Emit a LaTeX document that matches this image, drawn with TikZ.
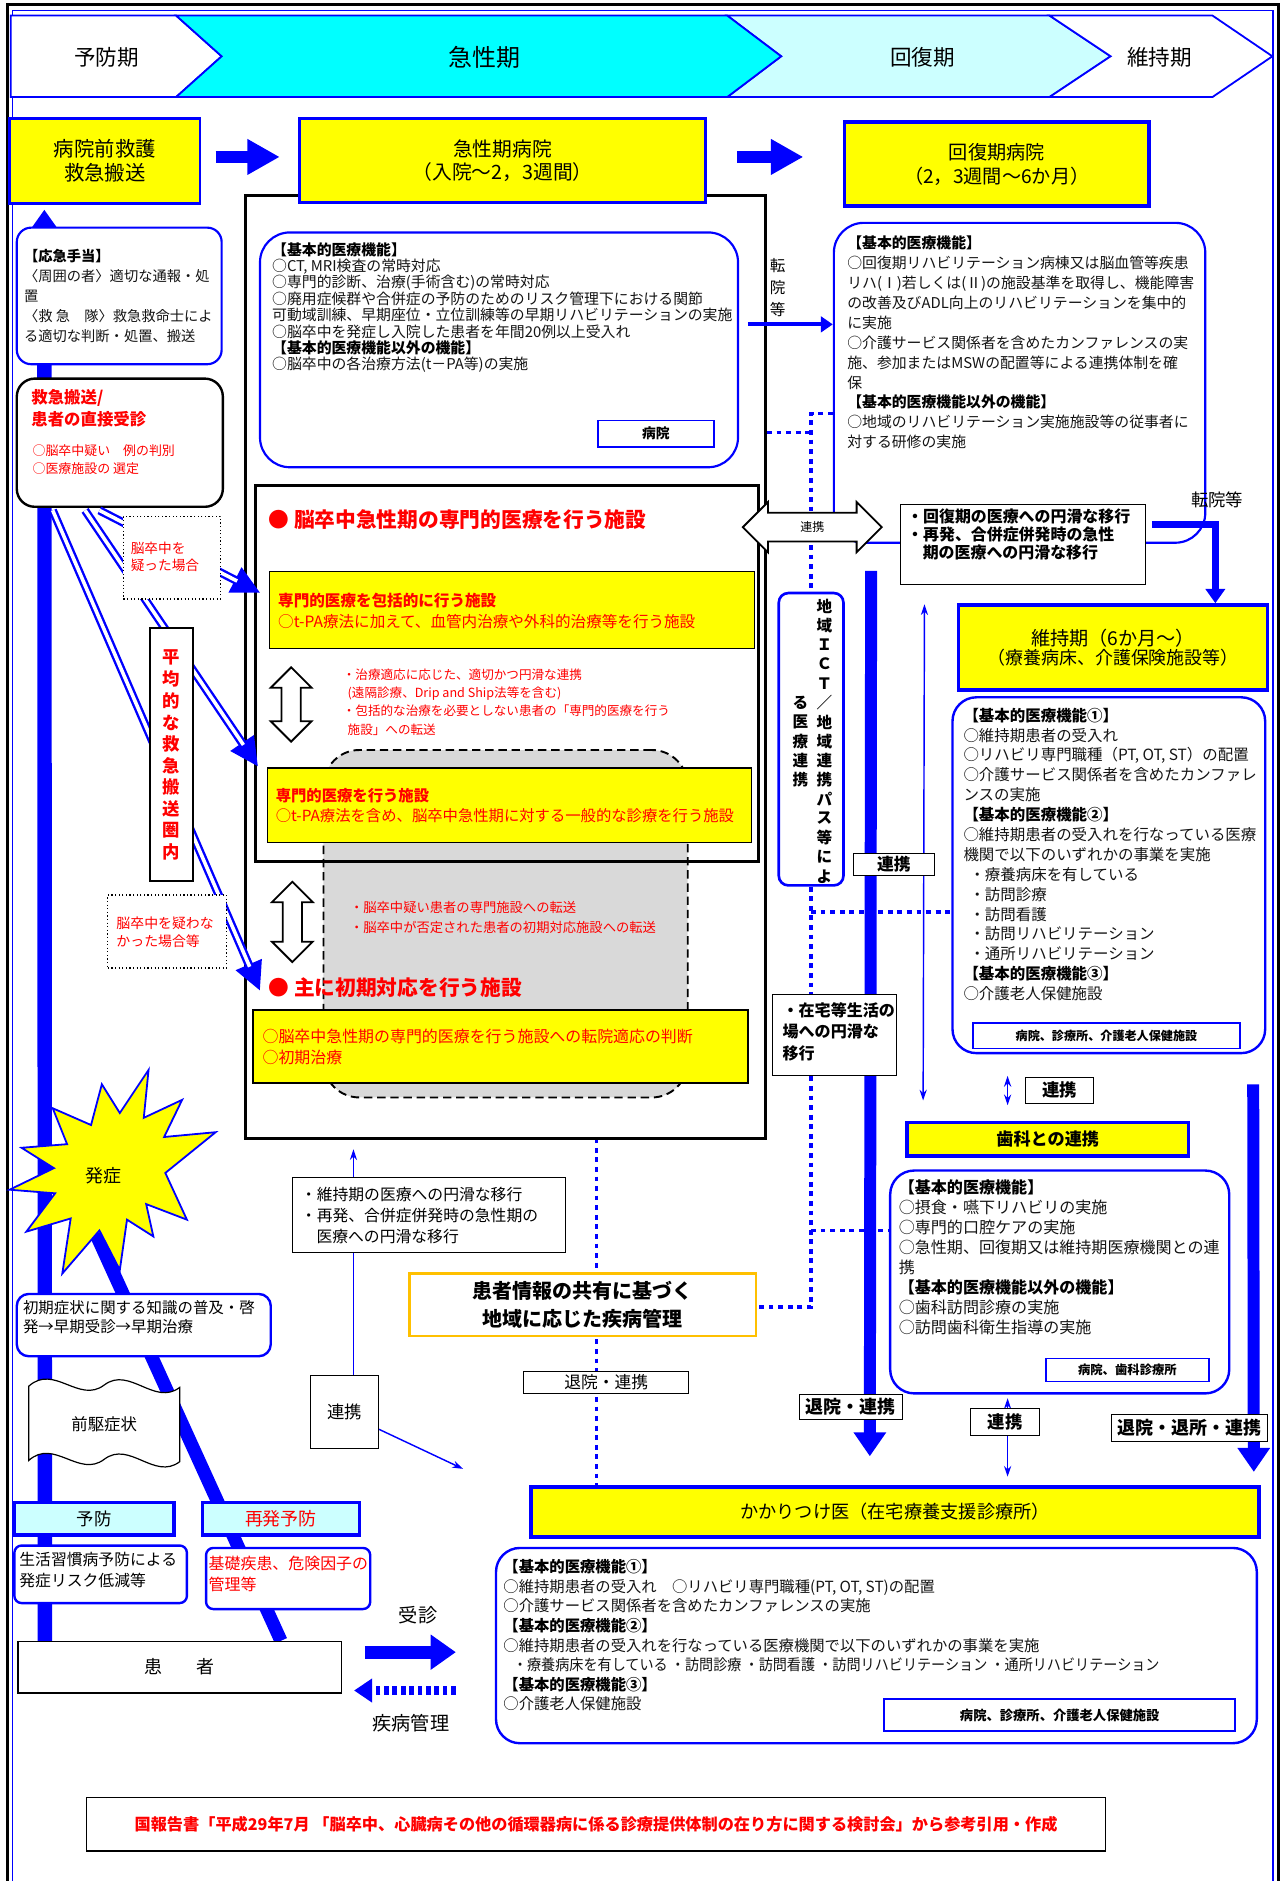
\documentclass[tikz,border=0pt]{standalone}
\usepackage{fontspec}
\usepackage{graphicx}
\setmainfont{Noto Sans CJK JP}
\usetikzlibrary{arrows.meta,calc}
\pgfdeclarelayer{bgzero}
\pgfdeclarelayer{background}
\pgfsetlayers{bgzero,background,main}
\definecolor{myblue}{RGB}{0,0,255}
\definecolor{myyellow}{RGB}{255,255,0}
\definecolor{mycyan}{RGB}{0,255,255}
\definecolor{mylcyan}{RGB}{204,255,255}
\definecolor{myred}{RGB}{255,0,0}
\definecolor{myorange}{RGB}{255,192,0}
\definecolor{mygray}{RGB}{217,217,217}
\definecolor{mytext}{RGB}{20,20,20}
\newcommand\myfs[2]{\fontsize{#1pt}{#2pt}\selectfont}
\newcommand\myhd[1]{\textcolor{black}{\bfseries #1}}
\newcommand\myVArrow[4]{%
  \draw[line width=1.5pt, fill=white] (#1,#2) -- ++(17,#4) -- ++(-9,0) -- (#1+8,#3-#4) -- ++(9,0) -- (#1,#3) -- ++(-17,-#4) -- ++(9,0) -- (#1-8,#2+#4) -- ++(-9,0) -- cycle;}
\begin{document}
\begin{tikzpicture}[x=1pt,y=-1pt,
  ybox/.style={draw=myblue, fill=myyellow, line width=2.5pt, inner sep=0pt, align=center},
  rbox/.style={draw=myblue, fill=white, line width=1.8pt, rounded corners=#1, inner sep=0pt},
  lbl/.style={draw=black, line width=0.8pt, fill=white, inner sep=0pt, align=center},
  blbl/.style={draw=myblue, line width=1.4pt, fill=white, inner sep=0pt, align=center},
  txt/.style={inner sep=0pt, anchor=north west, align=left, text=mytext},
  pln/.style={inner sep=0pt},
  pbar/.style={draw=myblue, line width=1.5pt},
  fatarrow/.style={myblue, line width=10pt, -{Triangle[length=27pt,width=28pt]}},
  bigarrow/.style={myblue, line width=10pt, -{Triangle[length=20pt,width=26pt]}},
  thinarrow/.style={myblue, line width=1.2pt, -{Stealth[length=9pt,width=6pt]}},
  thinboth/.style={myblue, line width=1.2pt, {Stealth[length=9pt,width=6pt]}-{Stealth[length=9pt,width=6pt]}},
  dline/.style={myblue, line width=7pt, -{Triangle[length=24pt,width=22pt]}},
  dlinein/.style={white, line width=3pt, shorten >=22pt},
  dotl/.style={myblue, line width=3pt, dash pattern=on 4pt off 4pt},
]
\useasboundingbox (0,0) rectangle (1070,1570);
\begin{pgfonlayer}{bgzero}\fill[white] (0,0) rectangle (1070,1570);\end{pgfonlayer}

% frame
\draw[line width=2.5pt] (6,1575) -- (6,4) -- (1067,4) -- (1067,1575);
\draw[myblue, line width=1pt] (10.5,1575) -- (10.5,9) -- (1062.5,9) -- (1062.5,1575);

% phase bar
\draw[pbar, fill=white] (9,13) -- (147,13) -- (185,47) -- (147,81) -- (9,81) -- cycle;
\draw[pbar, fill=mylcyan] (607,13) -- (876,13) -- (927,47) -- (876,81) -- (607,81) -- (652,47) -- cycle;
\draw[pbar, fill=white] (876,13) -- (1012,13) -- (1062,47) -- (1012,81) -- (876,81) -- (927,47) -- cycle;
\draw[pbar, fill=mycyan] (147,13) -- (607,13) -- (652,47) -- (607,81) -- (147,81) -- (185,47) -- cycle;
\node[pln, font=\myfs{18}{18}] (ph1) at (89,48) {予防期};
\node[pln, font=\myfs{20}{20}] (ph2) at (404,48) {急性期};
\node[pln, font=\myfs{18}{18}] (ph3) at (770,48) {回復期};
\node[pln, font=\myfs{18}{18}] (ph4) at (968,48) {維持期};

% acute area
\node[draw, line width=2.5pt, minimum width=434pt, minimum height=787pt, inner sep=0pt] (area) at (422,556.5) {};
\node[rbox=25pt, minimum width=399pt, minimum height=196pt] (acInfo) at (416.5,292) {};
\node[txt, font=\myfs{12.4}{13.7}] (acTxt) at (227,202) {\myhd{【基本的医療機能】}\\○CT, MRI検査の常時対応\\○専門的診断、治療(手術含む)の常時対応\\○廃用症候群や合併症の予防のためのリスク管理下における関節\\可動域訓練、早期座位・立位訓練等の早期リハビリテーションの実施\\○脳卒中を発症し入院した患者を年間20例以上受入れ\\\myhd{【基本的医療機能以外の機能】}\\○脳卒中の各治療方法(t－PA等)の実施};
\node[blbl, minimum width=97pt, minimum height=22pt, font=\bfseries\myfs{11.5}{12}] (acLbl) at (547.5,362) {病院};

% row 2
\node[ybox, line width=2pt, minimum width=159pt, minimum height=71pt, font=\myfs{17}{20}] (pre) at (87.5,134.5) {病院前救護\\救急搬送};
\node[ybox, line width=3pt, minimum width=339pt, minimum height=70pt, font=\myfs{16.5}{19}] (acuteH) at (419.5,134) {急性期病院\\（入院～2，3週間）};
\node[ybox, line width=3pt, minimum width=254pt, minimum height=70pt, font=\myfs{16}{20}] (recH) at (832,137) {回復期病院\\（2，3週間～6か月）};
\draw[fatarrow] ($(pre.east)+(12,-3.5)$) -- ($(acuteH.west)+(-15,-3)$);
\draw[fatarrow] ($(acuteH.east)+(25,-3)$) -- ($(recH.west)+(-33,-6)$);

% specialised facilities
\node[draw, dash pattern=on 7pt off 4pt, line width=1.6pt, fill=mygray, rounded corners=30pt, minimum width=304pt, minimum height=290pt, inner sep=0pt] (grayA) at (422,771) {};
\node[draw, line width=2.5pt, minimum width=420pt, minimum height=314pt, inner sep=0pt] (spec) at (423,562) {};
\node[draw, line width=1pt, fill=myyellow, minimum width=405pt, minimum height=64pt, inner sep=0pt] (ya) at (427.5,509) {};
\node[draw, line width=1pt, fill=myyellow, minimum width=404pt, minimum height=62pt, inner sep=0pt] (yb) at (425,672) {};
\node[draw, line width=1.8pt, fill=myyellow, minimum width=413pt, minimum height=61pt, inner sep=0pt] (yc) at (417.5,873.5) {};
\node[txt, text=myred, font=\myfs{13}{18}] (yaT) at (232,494.5) {\textbf{専門的医療を包括的に行う施設}\\○t-PA療法に加えて、血管内治療や外科的治療等を行う施設};
\node[txt, text=myred, font=\myfs{12.8}{17}] (ybT) at (230,657.5) {\textbf{専門的医療を行う施設}\\○t-PA療法を含め、脳卒中急性期に対する一般的な診療を行う施設};
\node[txt, text=myred, font=\myfs{13.3}{18}] (ycT) at (219,858.4) {○脳卒中急性期の専門的医療を行う施設への転院適応の判断\\○初期治療};
\node[pln, anchor=west, text=myred, font=\bfseries\myfs{17.3}{18}] (t1) at (224,434) {● 脳卒中急性期の専門的医療を行う施設};
\node[pln, anchor=west, text=myred, font=\bfseries\myfs{17.3}{18}] (t2) at (224,824) {● 主に初期対応を行う施設};
\myVArrow{243}{557}{619}{17}
\myVArrow{244}{736}{803}{17}
\node[txt, text=myred, font=\myfs{10.5}{15.4}] (tz1) at (286,557.7) {・治療適応に応じた、適切かつ円滑な連携\\\hspace*{4pt}(遠隔診療、Drip and Ship法等を含む)\\・包括的な治療を必要としない患者の「専門的医療を行う\\\hspace*{4pt}施設」への転送};
\node[txt, text=myred, font=\myfs{11.1}{16}] (tz2) at (292,752.5) {・脳卒中疑い患者の専門施設への転送\\・脳卒中が否定された患者の初期対応施設への転送};

% first aid / transport
\node[rbox=12pt, minimum width=171pt, minimum height=114pt] (oq) at (99.5,247) {};
\node[txt, font=\myfs{11.9}{16.6}] (oqT) at (20,208) {\myhd{【応急手当】}\\〈周囲の者〉適切な通報・処\\置\\〈救 急　隊〉救急救命士によ\\る適切な判断・処置、搬送};
\node[draw, line width=2pt, rounded corners=15pt, fill=white, minimum width=172pt, minimum height=107pt, inner sep=0pt] (qq) at (100,369.5) {};
\node[txt, text=myred, font=\bfseries\myfs{13.7}{18}] (qqT1) at (26,325) {救急搬送/\\患者の直接受診};
\node[txt, text=myred, font=\myfs{10.8}{15}] (qqT2) at (27,370.6) {○脳卒中疑い　例の判別\\○医療施設の 選定};

% double lines
\coordinate (L1s) at ($(qq.south west)+(70,2)$);
\coordinate (L1e) at ($(ya.west)+(-7,-14)$);
\coordinate (L2s) at ($(qq.south west)+(58,2)$);
\coordinate (L2e) at ($(yb.west)+(-7,-32)$);
\coordinate (L3s) at ($(qq.south west)+(31,2)$);
\coordinate (L3e) at ($(yc.north west)+(7,-15)$);
\draw[dline] (L3s) -- (L3e); \draw[dlinein] (L3s) -- (L3e);
\draw[dline] (L2s) -- (L2e); \draw[dlinein] (L2s) -- (L2e);
\draw[dline] (L1s) -- (L1e); \draw[dlinein] (L1s) -- (L1e);

\node[draw, dotted, line width=1pt, fill=white, minimum width=81pt, minimum height=69pt, inner sep=0pt] (db1) at (143.5,465.5) {};
\node[txt, text=myred, font=\myfs{11.4}{14.5}] (db1T) at (109,452.3) {脳卒中を\\疑った場合};
\node[draw, dotted, line width=1pt, fill=white, minimum width=99pt, minimum height=61pt, inner sep=0pt] (db2) at (139.5,777.5) {};
\node[txt, text=myred, font=\myfs{11.6}{14.5}] (db2T) at (97,765.2) {脳卒中を疑わな\\かった場合等};
\node[draw, line width=1.8pt, fill=white, minimum width=36pt, minimum height=211pt, inner sep=0pt] (avg) at (143,629.5) {};
\foreach \c [count=\i] in {平,均,的,な,救,急,搬,送,圏,内}
  \node[pln, text=myred, font=\bfseries\myfs{14.5}{15}] (avg\i) at (143,531+18*\i) {\c};

% recovery
\node[rbox=25pt, minimum width=310pt, minimum height=267pt] (recInfo) at (851,319.5) {};
\node[txt, font=\myfs{12.4}{16.6}] (recT) at (707,196.8) {\myhd{【基本的医療機能】}\\○回復期リハビリテーション病棟又は脳血管等疾患\\リハ(Ⅰ)若しくは(Ⅱ)の施設基準を取得し、機能障害\\の改善及びADL向上のリハビリテーションを集中的\\に実施\\○介護サービス関係者を含めたカンファレンスの実\\施、参加またはMSWの配置等による連携体制を確\\保\\\myhd{【基本的医療機能以外の機能】}\\○地域のリハビリテーション実施施設等の従事者に\\対する研修の実施};
\node[pln, align=center, font=\myfs{13}{18}] (tenin1) at (649,240) {転\\院\\等};
\coordinate (ta1) at ($(area.north east)+(-16,109)$);
\draw[myblue, line width=3.5pt, -{Triangle[length=10pt,width=13pt]}] (ta1) -- (ta1 -| recInfo.west);
\node[pln, font=\myfs{14.5}{15}] (tenin2) at (1016,417) {転院等};

\draw[line width=1.5pt, fill=white] (620,440) -- (641,419) -- (641,428) -- (715,428) -- (715,419) -- (736,440) -- (715,461) -- (715,452) -- (641,452) -- (641,461) -- cycle;
\node[pln, font=\myfs{10}{10}] (hk) at (678,440) {連携};

\node[lbl, minimum width=204pt, minimum height=67pt] (recMove) at (854,454.5) {};
\node[txt, text=black, font=\bfseries\myfs{13.3}{15.2}] (recMoveT) at (757,424.3) {・回復期の医療への円滑な移行\\・再発、合併症併発時の急性\\\hspace*{13pt}期の医療への円滑な移行};

% maintenance
\node[ybox, line width=3pt, minimum width=258pt, minimum height=71pt] (mtY) at (929,540.5) {\myfs{16}{18}維持期（6か月～）\\\myfs{15}{18}（療養病床、介護保険施設等）};
\coordinate (tk1) at ($(recMove.north east)+(5,17)$);
\coordinate (tk2) at ($(tk1)+(53,0)$);
\draw[myblue, line width=5.5pt, -{Triangle[length=12pt,width=16pt]}] (tk1) -- (tk2) -- (tk2 |- mtY.north);

\node[draw=myblue, line width=2.2pt, rounded corners=8pt, fill=white, minimum width=54pt, minimum height=244pt, inner sep=0pt] (ict) at (677,617) {};
\foreach \c [count=\i] in {地,域,Ｉ,Ｃ,Ｔ,／,地,域,連,携,パ,ス,等,に,よ}
  \node[pln, font=\bfseries\myfs{13}{13}] (ictR\i) at (688,489.9+16.1*\i) {\c};
\foreach \c [count=\i] in {る,医,療,連,携}
  \node[pln, font=\bfseries\myfs{13}{13}] (ictL\i) at (668,570.4+16.1*\i) {\c};

\node[lbl, minimum width=68pt, minimum height=18pt, font=\bfseries\myfs{14}{14}] (rk1) at (746,721.5) {連携};
\node[lbl, minimum width=103pt, minimum height=68pt] (home) at (696.5,864) {};
\node[txt, text=black, font=\bfseries\myfs{13.4}{18}] (homeT) at (653,836.3) {・在宅等生活の\\場への円滑な\\移行};

\node[rbox=20pt, line width=2pt, minimum width=261pt, minimum height=297pt] (mtInfo) at (925.5,730.5) {};
\node[txt, font=\myfs{12.9}{16.6}] (mtT) at (804,590.6) {\myhd{【基本的医療機能①】}\\○維持期患者の受入れ\\○リハビリ専門職種（PT, OT, ST）の配置\\○介護サービス関係者を含めたカンファレ\\ンスの実施\\\myhd{【基本的医療機能②】}\\○維持期患者の受入れを行なっている医療\\機関で以下のいずれかの事業を実施\\\hspace*{5pt}・療養病床を有している\\\hspace*{5pt}・訪問診療\\\hspace*{5pt}・訪問看護\\\hspace*{5pt}・訪問リハビリテーション\\\hspace*{5pt}・通所リハビリテーション\\\myhd{【基本的医療機能③】}\\○介護老人保健施設};
\node[blbl, minimum width=223pt, minimum height=21pt, font=\bfseries\myfs{10.1}{11}] (mtLbl) at (923.5,864.5) {病院、診療所、介護老人保健施設};

\node[lbl, minimum width=57pt, minimum height=22pt, font=\bfseries\myfs{14.5}{15}] (rk2) at (884.5,910) {連携};
\node[ybox, line width=3pt, minimum width=235pt, minimum height=28pt, font=\bfseries\myfs{14.3}{15}] (dentY) at (874.5,951) {歯科との連携};
\node[rbox=20pt, line width=2pt, minimum width=283pt, minimum height=186pt] (dent) at (884.5,1070) {};
\node[txt, font=\myfs{13.4}{16.7}] (dentT) at (750,984.3) {\myhd{【基本的医療機能】}\\○摂食・嚥下リハビリの実施\\○専門的口腔ケアの実施\\○急性期、回復期又は維持期医療機関との連\\携\\\myhd{【基本的医療機能以外の機能】}\\○歯科訪問診療の実施\\○訪問歯科衛生指導の実施};
\node[blbl, minimum width=136pt, minimum height=19pt, font=\bfseries\myfs{10.3}{11}] (dentLbl) at (941,1143.5) {病院、歯科診療所};
\node[lbl, minimum width=58pt, minimum height=22pt, font=\bfseries\myfs{14.5}{15}] (rk3) at (839,1187) {連携};

% family doctor
\node[ybox, line width=3pt, minimum width=608pt, minimum height=42pt, font=\myfs{15.2}{16}] (kk) at (747,1262) {かかりつけ医（在宅療養支援診療所）};
\node[rbox=20pt, line width=2pt, minimum width=635pt, minimum height=163pt] (kkInfo) at (731.5,1373.5) {};
\node[txt, font=\myfs{12.8}{16.3}] (kkT) at (420,1301.6) {\myhd{【基本的医療機能①】}\\○維持期患者の受入れ　○リハビリ専門職種(PT, OT, ST)の配置\\○介護サービス関係者を含めたカンファレンスの実施\\\myhd{【基本的医療機能②】}\\○維持期患者の受入れを行なっている医療機関で以下のいずれかの事業を実施\\\hspace*{8pt}\scalebox{0.92}[1]{・療養病床を有している ・訪問診療 ・訪問看護 ・訪問リハビリテーション ・通所リハビリテーション}\\\myhd{【基本的医療機能③】}\\○介護老人保健施設};
\node[blbl, minimum width=293pt, minimum height=27pt, font=\bfseries\myfs{11.1}{12}] (kkLbl) at (884.5,1431.5) {病院、診療所、介護老人保健施設};

\node[lbl, minimum width=130pt, minimum height=22pt, font=\bfseries\myfs{15}{15}] (rk4) at (993,1192) {退院・退所・連携};
\node[lbl, minimum width=86pt, minimum height=21pt, font=\bfseries\myfs{15}{15}] (rk5) at (710,1174.5) {退院・連携};

% lower left
\node[lbl, minimum width=228pt, minimum height=62pt] (mtMove) at (358,1014) {};
\node[txt, text=black, font=\myfs{13.2}{17.5}] (mtMoveT) at (251,990.4) {・維持期の医療への円滑な移行\\・再発、合併症併発時の急性期の\\\hspace*{13pt}医療への円滑な移行};
\node[lbl, minimum width=57pt, minimum height=61pt, font=\myfs{14.5}{15}] (rk6) at (287.5,1178.5) {連携};
\draw[thinarrow] ($(rk6.east)+(0,14.5)$) -- ($(kk.west)+(-55,-36)$);
\node[lbl, minimum width=138pt, minimum height=18pt, font=\myfs{14}{14}] (rk7) at (506,1154) {退院・連携};
\node[draw=myorange, line width=2.2pt, fill=white, minimum width=289pt, minimum height=52pt, inner sep=0pt, align=center, font=\bfseries\myfs{16.7}{23}] (pinfo) at (486.5,1089) {患者情報の共有に基づく\\地域に応じた疾病管理};

\draw[myblue, line width=1.5pt, fill=myyellow] (124,893) -- (120,933) -- (152,918) -- (137,949) -- (180,945) -- (138,979) -- (156,1018) -- (122,1005) -- (128,1032) -- (106,1018) -- (100,1060) -- (83,1027) -- (52,1063) -- (59,1017) -- (22,1028) -- (46,996) -- (8,993) -- (45,975) -- (18,958) -- (56,955) -- (44,925) -- (76,939) -- (85,905) -- (100,929) -- cycle;
\node[pln, font=\myfs{15}{15}] (hs) at (86,981) {発症};

\node[rbox=10pt, line width=2pt, minimum width=212pt, minimum height=52pt] (sy) at (120,1106) {};
\node[txt, text=black, font=\myfs{12.9}{16}] (syT) at (19,1085.5) {初期症状に関する知識の普及・啓\\発→早期受診→早期治療};

\draw[line width=1pt, fill=white] (24,1157) .. controls (45,1138) and (66,1172) .. (87,1156) .. controls (108,1140) and (129,1174) .. (150,1158) -- (150,1220) .. controls (129,1236) and (108,1202) .. (87,1218) .. controls (66,1234) and (45,1200) .. (24,1219) -- cycle;
\node[pln, font=\myfs{13.7}{14}] (zk) at (87,1189) {前駆症状};

\node[draw=myblue, line width=3pt, fill=mylcyan, minimum width=133pt, minimum height=27pt, inner sep=0pt, font=\myfs{14.5}{15}] (yobo) at (78.5,1267.5) {予防};
\node[draw=myblue, line width=3pt, fill=mylcyan, minimum width=131pt, minimum height=27pt, inner sep=0pt, text=myred, font=\myfs{15}{15}] (saih) at (234.5,1267.5) {再発予防};
\node[rbox=6pt, line width=2pt, minimum width=144pt, minimum height=48pt] (ls) at (84,1314) {};
\node[txt, text=black, font=\myfs{13.2}{17.5}] (lsT) at (16,1295.4) {生活習慣病予防による\\発症リスク低減等};
\node[rbox=6pt, line width=2pt, minimum width=137pt, minimum height=51pt] (kiso) at (240.5,1317.5) {};
\node[txt, text=myred, font=\myfs{13.3}{18}] (kisoT) at (174,1298.4) {基礎疾患、危険因子の\\管理等};
\node[lbl, line width=1pt, minimum width=270pt, minimum height=43pt, font=\myfs{15}{15}] (pt) at (150,1391.5) {患\hspace{28pt}者};
\node[pln, font=\myfs{16}{16}] (jus) at (349,1348) {受診};
\node[pln, font=\myfs{16}{16}] (shk) at (343,1438) {疾病管理};
\draw[myblue, line width=11pt, -{Triangle[length=21pt,width=28pt]}] ($(pt.east)+(19,-12.5)$) -- ($(pt.east)+(95,-12.5)$);
\draw[myblue, line width=7pt, dash pattern=on 4pt off 3pt, -{Triangle[length=15pt,width=19pt]}] ($(pt.east)+(95,19.5)$) -- ($(pt.east)+(10,19.5)$);

% source
\node[draw, line width=1pt, fill=white, minimum width=851pt, minimum height=45pt, inner sep=0pt, text=myred, font=\bfseries\myfs{13.5}{14}] (src) at (497.5,1522.5) {国報告書「平成29年7月 「脳卒中、心臓病その他の循環器病に係る診療提供体制の在り方に関する検討会」から参考引用・作成};

% connectors behind boxes
\begin{pgfonlayer}{background}
\draw[myblue, line width=12pt, -{Triangle[length=18pt,width=24pt]}] ($(pt.north west)+(23,0)$) -- ($(pre.south west)+(30,4)$);
\coordinate (bl2s) at (80,1030);
\draw[myblue, line width=11pt] (bl2s) -- ($(pt.north west)+(220,0)$);
\coordinate (bvA) at ($(recMove.south west)+(-24.5,-12)$);
\coordinate (bvB) at ($(kk.north west)+(284.5,-24)$);
\draw[bigarrow] (bvA) -- (bvB);
\draw[bigarrow] ($(mtInfo.south east)+(-11,25)$) -- ($(kk.north east)+(-6,-11)$);
\draw[thinboth] ($(recMove.south west)+(20,16)$) -- ($(dentY.north west)+(15,-17)$);
\draw[thinboth] ($(mtInfo.south)+(-84.5,18)$) -- ($(dentY.north)+(-33.5,-13)$);
\draw[thinboth] ($(dent.south)+(-43.5,3)$) -- ($(kk.north)+(94,-7)$);
\draw[thinarrow] ($(rk6.north)+(7.5,0)$) -- ($(area.south)+(-127,8)$);
\coordinate (dA) at (677,361);
\draw[dotl] (dA -| area.east) -- (dA);
\coordinate (dB) at (677,345);
\draw[dotl] (dB -| recInfo.west) -- (dB) -- (ict.north);
\draw[dotl] (ict.south) -- (ict.south |- home.north);
\coordinate (dC) at (677,761);
\draw[dotl] (dC) -- (dC -| mtInfo.west);
\coordinate (dD) at (677,1091);
\draw[dotl] (ict.south |- home.south) -- (dD) -- (dD -| pinfo.east);
\coordinate (dE) at (677,1027);
\draw[dotl] (dE) -- (dE -| dent.west);
\coordinate (dF) at (498,950);
\draw[dotl] (dF) -- (dF |- kk.north);
\end{pgfonlayer}
\end{tikzpicture}
\end{document}
